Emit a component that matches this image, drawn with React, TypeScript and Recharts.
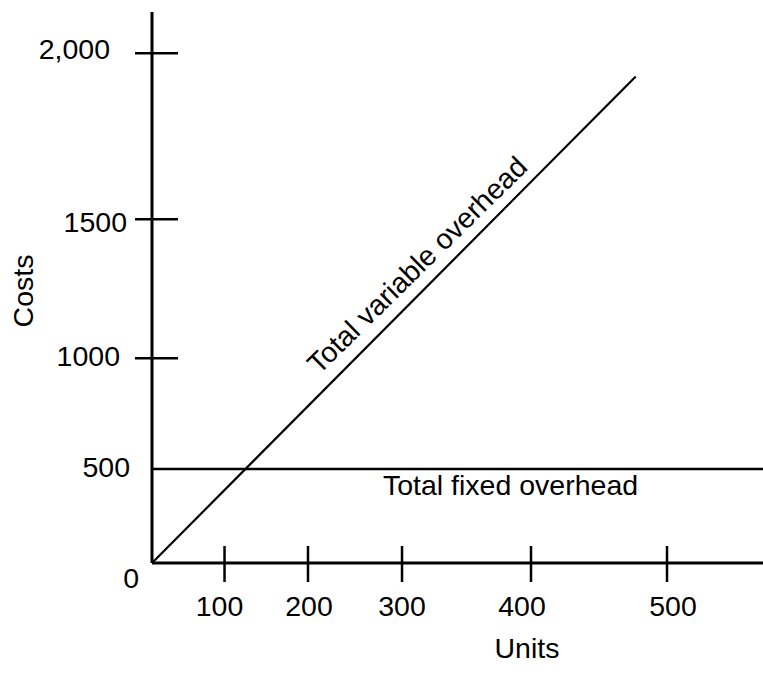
import { LineChart, Line, XAxis, YAxis } from "recharts";

// overhead costs against units
const variableUnits = [0, 477];
const variableCosts = [0, 1930];
const fixedUnits = [0, 570];
const fixedCosts = [500, 500];

const xTicks = [100, 200, 300, 400, 500];
const xTickLabels = ["100", "200", "300", "400", "500"];
const yTicks = [0, 500, 1000, 1500, 2000];
const yTickLabels = ["0", "500", "1000", "1500", "2,000"];

// the drawing's axes are not evenly spaced, so each axis uses a piecewise
// scale: value stops -> share of the axis length
const xStops = [0, 100, 200, 300, 400, 500, 570];
const xShares = [0, 0.1187, 0.2553, 0.4092, 0.6203, 0.8429, 1];
const yStops = [0, 500, 1000, 1500, 2000, 2120];
const yShares = [0, 0.1706, 0.3715, 0.6238, 0.925, 1];

// label nudges (px) so the text sits where the drawing has it
const xLabelDx = [-5, 1, 0, -9, 6];
const yLabelDx = [-13, -22, -32, -25, -42];
const yLabelDy = [15, -2, -2, 3, -4];

const FONT = "'Liberation Sans', Arial, Helvetica, sans-serif";
const FONT_SIZE = 28.5;
const INK = "#000";

function pieceScale(stops: number[], shares: number[]): any {
  let domain = [stops[0], stops[stops.length - 1]];
  let range = [0, 1];
  const scale: any = (v: number) => {
    let i = 1;
    while (i < stops.length - 1 && v > stops[i]) i++;
    const t = (v - stops[i - 1]) / (stops[i] - stops[i - 1]);
    const share = shares[i - 1] + t * (shares[i] - shares[i - 1]);
    return range[0] + share * (range[1] - range[0]);
  };
  scale.domain = (d?: number[]) => {
    if (!d) return domain.slice();
    domain = d.slice();
    return scale;
  };
  scale.range = (r?: number[]) => {
    if (!r) return range.slice();
    range = r.slice();
    return scale;
  };
  scale.copy = () => pieceScale(stops, shares).domain(domain).range(range);
  scale.ticks = () => stops.slice();
  scale.tickFormat = () => (v: number) => String(v);
  scale.clamp = () => scale;
  scale.nice = () => scale;
  return scale;
}

const xScale = pieceScale(xStops, xShares);
const yScale = pieceScale(yStops, yShares);

const variableData = variableUnits.map((u, i) => ({ units: u, cost: variableCosts[i] }));
const fixedData = fixedUnits.map((u, i) => ({ units: u, cost: fixedCosts[i] }));

function XTick({ x, y, payload }: any) {
  const i = xTicks.indexOf(payload.value);
  return (
    <g>
      <line x1={x} x2={x} y1={y - 17} y2={y + 19} stroke={INK} strokeWidth={2.5} />
      <text
        x={x + (xLabelDx[i] ?? 0)}
        y={y + 43}
        textAnchor="middle"
        dominantBaseline="central"
        fontFamily={FONT}
        fontSize={FONT_SIZE}
        fill={INK}
      >
        {xTickLabels[i]}
      </text>
    </g>
  );
}

function YTick({ x, y, payload }: any) {
  const i = yTicks.indexOf(payload.value);
  // the 0 and 500 lines already cross the axis, so no cross mark there
  const mark = payload.value > fixedCosts[0];
  return (
    <g>
      {mark && <line x1={x - 17} x2={x + 26} y1={y} y2={y} stroke={INK} strokeWidth={2.5} />}
      <text
        x={x + (yLabelDx[i] ?? 0)}
        y={y + (yLabelDy[i] ?? 0)}
        textAnchor="end"
        dominantBaseline="central"
        fontFamily={FONT}
        fontSize={FONT_SIZE}
        fill={INK}
      >
        {yTickLabels[i]}
      </text>
    </g>
  );
}

export default function App() {
  return (
    <div style={{ position: "absolute", left: 0, top: 0 }}>
      <LineChart width={763} height={686} margin={{ top: 12, right: 0, bottom: 0, left: 0 }}>
        <XAxis
          dataKey="units"
          type="number"
          domain={[0, 570]}
          scale={xScale}
          ticks={xTicks}
          interval={0}
          height={123}
          tickSize={0}
          tickMargin={0}
          tickLine={false}
          axisLine={{ stroke: INK, strokeWidth: 3 }}
          tick={<XTick />}
          allowDataOverflow
        />
        <YAxis
          type="number"
          domain={[0, 2120]}
          scale={yScale}
          ticks={yTicks}
          interval={0}
          width={152}
          tickSize={0}
          tickMargin={0}
          tickLine={false}
          axisLine={{ stroke: INK, strokeWidth: 3 }}
          tick={<YTick />}
          allowDataOverflow
        />
        <Line
          data={fixedData}
          dataKey="cost"
          stroke={INK}
          strokeWidth={2.6}
          dot={false}
          activeDot={false}
          isAnimationActive={false}
        />
        <Line
          data={variableData}
          dataKey="cost"
          stroke={INK}
          strokeWidth={2.2}
          dot={false}
          activeDot={false}
          isAnimationActive={false}
        />
        <text
          x={424}
          y={272}
          transform="rotate(-44.5 424 272)"
          textAnchor="middle"
          fontFamily={FONT}
          fontSize={FONT_SIZE}
          fill={INK}
        >
          Total variable overhead
        </text>
        <text x={383} y={495} fontFamily={FONT} fontSize={FONT_SIZE} fill={INK}>
          Total fixed overhead
        </text>
        <text
          x={33}
          y={291}
          transform="rotate(-90 33 291)"
          textAnchor="middle"
          fontFamily={FONT}
          fontSize={FONT_SIZE}
          fill={INK}
        >
          Costs
        </text>
        <text x={527} y={658} textAnchor="middle" fontFamily={FONT} fontSize={FONT_SIZE} fill={INK}>
          Units
        </text>
      </LineChart>
    </div>
  );
}
